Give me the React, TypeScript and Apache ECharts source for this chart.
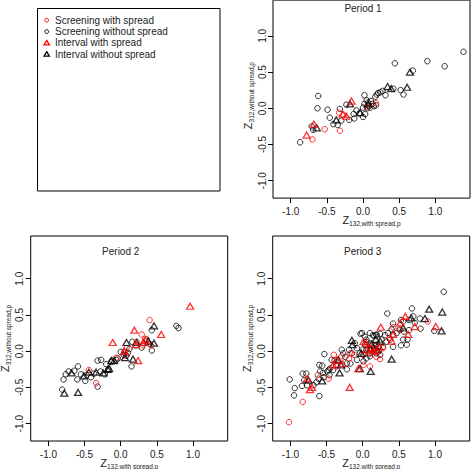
import React, { useEffect, useRef } from "react";
import * as echarts from "echarts";

// ---------- data ----------
const tickValues = [-1, -0.5, 0, 0.5, 1];
const periodTitles = ["Period 1", "Period 2", "Period 3"];
const legendLabels = [
  "Screening with spread",
  "Screening without spread",
  "Interval with spread",
  "Interval without spread",
];
const xTitleSub = "132,with spread,p";
const yTitleSub = "312,without spread,p";

// Period 1
const p1ScreenWith = [
  [-0.7, -0.43], [-0.53, -0.29], [-0.32, -0.31], [-0.33, -0.06], [0.18, 0.07], [-0.27, -0.09], [0.05, 0.02],
];
const p1ScreenWithout = [
  [-0.87, -0.47], [-0.62, 0.17], [-0.63, 0.0], [-0.71, -0.25], [-0.69, -0.3], [-0.49, -0.02], [-0.46, -0.13],
  [-0.41, -0.22], [-0.32, -0.01], [-0.35, -0.23], [-0.3, -0.17], [-0.19, -0.16], [-0.13, -0.08], [-0.12, -0.14],
  [-0.09, -0.03], [-0.23, 0.05], [0.02, 0.18], [0.0, 0.01], [0.02, 0.06], [0.05, 0.11], [0.06, 0.0], [0.1, 0.01],
  [0.13, 0.06], [0.17, 0.16], [0.21, 0.21], [0.27, 0.24], [0.31, 0.18], [0.18, 0.04], [0.0, -0.12], [0.03, -0.08],
  [0.44, 0.62], [0.42, 0.27], [0.52, 0.25], [0.56, 0.19], [0.69, 0.52], [0.89, 0.65], [1.13, 0.58], [1.39, 0.78],
  [0.11, 0.1], [0.08, 0.03], [0.24, 0.22], [0.19, 0.19], [-0.05, -0.07], [0.07, 0.08], [0.15, 0.03],
];
const p1IntervalWith = [
  [-0.78, -0.37], [-0.68, -0.22], [-0.28, -0.08], [-0.23, -0.11], [-0.16, 0.1],
];
const p1IntervalWithout = [
  [-0.64, -0.27], [-0.37, -0.16], [-0.18, 0.06], [-0.04, -0.06], [0.07, 0.06], [0.34, 0.3], [0.39, 0.27],
  [0.61, 0.29], [0.65, 0.5],
];

// Period 2
const p2ScreenWith = [
  [0.4, 0.43], [0.29, 0.23], [0.31, 0.08], [0.08, 0.04], [0.07, -0.06], [-0.06, -0.09], [-0.44, -0.26],
  [-0.34, -0.44], [0.42, 0.08], [0.05, -0.01], [0.22, 0.13], [0.34, 0.17],
];
const p2ScreenWithout = [
  [-0.81, -0.53], [-0.79, -0.39], [-0.76, -0.32], [-0.72, -0.28], [-0.64, -0.27], [-0.59, -0.21], [-0.6, -0.39],
  [-0.55, -0.32], [-0.49, -0.41], [-0.41, -0.36], [-0.32, -0.49], [-0.32, -0.13], [-0.27, -0.12], [-0.28, -0.28],
  [-0.22, -0.32], [-0.2, -0.18], [-0.12, -0.13], [-0.06, -0.12], [-0.04, -0.1], [0.0, -0.01], [0.15, -0.21],
  [0.04, -0.05], [0.08, -0.06], [0.1, -0.02], [0.16, 0.13], [0.21, 0.08], [0.43, 0.29], [0.43, 0.01], [0.77, 0.35],
  [0.8, 0.32], [0.36, 0.16], [0.29, 0.05], [0.4, 0.1], [-0.13, -0.15], [-0.37, -0.31], [-0.47, -0.33], [0.12, 0.03],
  [-0.17, -0.25],
];
const p2IntervalWith = [
  [0.96, 0.62], [0.56, 0.23], [0.19, 0.29], [-0.11, 0.12], [0.05, 0.0], [0.34, 0.15], [0.24, -0.13], [0.21, 0.09],
  [0.31, 0.12],
];
const p2IntervalWithout = [
  [0.46, 0.35], [0.46, 0.11], [0.38, 0.14], [0.22, 0.12], [0.08, 0.12], [-0.09, -0.13], [-0.13, -0.13],
  [-0.18, -0.25], [-0.34, -0.29], [-0.44, -0.29], [-0.51, -0.34], [-0.68, -0.3], [-0.78, -0.58], [-0.59, -0.57],
  [0.06, -0.09], [0.17, -0.11], [-0.24, -0.3], [-0.16, -0.24],
];

// Period 3
const p3ScreenWith = [
  [-1.02, -0.98], [-0.83, -0.7], [-0.47, -0.38], [-0.4, -0.05], [-0.29, -0.07], [-0.19, -0.1], [-0.17, -0.03],
  [-0.12, -0.05], [0.01, -0.05], [0.1, -0.03], [0.19, -0.08], [0.1, -0.21], [0.42, 0.33], [0.24, -0.11],
  [0.01, -0.19], [0.37, 0.18], [0.28, 0.04], [0.17, 0.07], [0.9, 0.41], [0.52, 0.29], [-0.62, -0.33], [-0.36, -0.21],
];
const p3ScreenWithout = [
  [-1.01, -0.39], [-0.94, -0.51], [-0.95, -0.61], [-0.6, -0.62], [1.12, 0.82], [0.99, 0.28], [0.79, 0.45],
  [0.8, 0.31], [0.68, 0.59], [0.34, 0.52], [-0.53, -0.04],
  [-0.83, -0.31], [-0.78, -0.31], [-0.81, -0.4], [-0.84, -0.48], [-0.77, -0.47], [-0.68, -0.47], [-0.64, -0.43],
  [-0.61, -0.38], [-0.59, -0.28], [-0.55, -0.3], [-0.54, -0.36], [-0.49, -0.28], [-0.47, -0.26], [-0.45, -0.24],
  [-0.46, -0.33], [-0.6, -0.19], [-0.56, -0.2], [-0.43, -0.12], [-0.39, -0.13], [-0.37, -0.19], [-0.41, -0.26],
  [-0.29, 0.02], [-0.27, -0.03], [-0.24, -0.08], [-0.22, -0.17], [-0.17, -0.17], [-0.22, -0.25], [-0.11, 0.11],
  [-0.08, 0.04], [-0.04, -0.03], [0.0, 0.02], [0.03, 0.09], [0.05, 0.16], [0.1, -0.03], [0.16, 0.04], [0.19, -0.03],
  [0.22, 0.06], [0.16, 0.21], [0.19, 0.23], [-0.03, 0.24], [-0.08, -0.12], [0.01, -0.14], [0.05, -0.1],
  [-0.19, 0.02], [-0.15, -0.03],
  [-0.01, 0.25], [0.03, 0.2], [0.1, 0.25], [0.14, 0.22], [0.19, 0.22], [0.24, 0.24], [0.31, 0.22], [0.35, 0.25],
  [0.4, 0.3], [0.42, 0.23], [0.05, 0.13], [0.12, 0.11], [0.19, 0.09], [0.26, 0.16], [0.33, 0.13], [0.38, 0.16],
  [0.42, 0.06], [0.28, 0.06], [0.17, 0.02], [0.05, 0.02], [0.01, -0.05], [0.1, -0.07], [0.22, 0.0], [0.24, -0.05],
  [0.51, 0.3], [0.53, 0.43], [0.56, 0.41], [0.47, 0.25], [0.64, 0.43], [0.7, 0.48], [0.72, 0.39], [0.57, 0.27],
  [0.64, 0.29], [0.56, 0.16], [0.62, 0.16], [0.53, 0.08], [0.61, 0.09], [0.42, 0.38],
];
const p3IntervalWith = [
  [-0.73, -0.53], [-0.7, -0.5], [-0.36, -0.12], [-0.18, -0.5], [-0.06, -0.24], [0.01, 0.13], [0.06, 0.02],
  [0.12, 0.04], [0.19, 0.01], [0.23, 0.06], [-0.41, -0.19], [-0.28, -0.17], [0.25, 0.33], [0.52, 0.39],
  [0.59, 0.48], [0.72, 0.34], [0.63, 0.23], [1.01, 0.34], [0.42, 0.23], [0.05, 0.11], [0.15, 0.0], [0.4, 0.14],
  [-0.77, -0.38],
];
const p3IntervalWithout = [
  [-0.75, -0.4], [-0.56, -0.41], [-0.34, -0.12], [-0.32, -0.3], [-0.3, -0.19], [-0.15, 0.15], [-0.14, 0.09],
  [-0.04, -0.24], [0.11, -0.28], [-0.02, -0.03], [0.12, 0.09], [0.18, 0.16], [0.2, 0.02], [0.92, 0.58],
  [1.1, 0.54], [1.09, 0.28], [0.86, 0.45], [0.67, 0.46], [0.56, 0.32], [0.4, -0.11], [0.24, 0.14], [0.1, 0.03],
];

const periods = [
  { sw: p1ScreenWith, swo: p1ScreenWithout, iw: p1IntervalWith, iwo: p1IntervalWithout },
  { sw: p2ScreenWith, swo: p2ScreenWithout, iw: p2IntervalWith, iwo: p2IntervalWithout },
  { sw: p3ScreenWith, swo: p3ScreenWithout, iw: p3IntervalWith, iwo: p3IntervalWithout },
];

// ---------- layout ----------
const X_MIN = -1.245;
const X_MAX = 1.48;
const Y_MIN = -1.24;
const Y_MAX = 1.59;
const PANEL_W = 197;
const PANEL_H = 205;
const panelPos = [
  { left: 273, top: -6.9 },
  { left: 30.7, top: 236 },
  { left: 272.7, top: 236 },
];

const RED = "#ff0000";
const BLACK = "#000000";
const FONT = "'Liberation Sans', Arial, Helvetica, sans-serif";
const TXT = "#222222";

export default function App() {
  const ref = useRef<HTMLDivElement>(null);

  useEffect(() => {
    if (!ref.current) return;
    const chart = echarts.init(ref.current, undefined, { renderer: "svg" });

    const grids = panelPos.map((p) => ({
      left: p.left,
      top: p.top,
      width: PANEL_W,
      height: PANEL_H,
      show: true,
      borderColor: "#000",
      borderWidth: 1,
      backgroundColor: "transparent",
      containLabel: false,
      outerBoundsMode: "none",
    }));

    const labelFmt = (v: number) => v.toFixed(1);

    const xAxes = panelPos.map((_, i) => ({
      type: "value",
      gridIndex: i,
      min: X_MIN,
      max: X_MAX,
      position: "bottom",
      axisLine: { show: false, onZero: false },
      splitLine: { show: false },
      axisTick: { show: true, length: 5, customValues: tickValues, lineStyle: { color: "#000", width: 1 } },
      axisLabel: {
        customValues: tickValues,
        formatter: labelFmt,
        margin: 8,
        fontSize: 10,
        color: TXT,
        fontFamily: FONT,
      },
    }));

    const yAxes = panelPos.map((_, i) => ({
      type: "value",
      gridIndex: i,
      min: Y_MIN,
      max: Y_MAX,
      position: "left",
      axisLine: { show: false, onZero: false },
      splitLine: { show: false },
      axisTick: { show: true, length: 5, customValues: tickValues, lineStyle: { color: "#000", width: 1 } },
      axisLabel: {
        customValues: tickValues,
        formatter: labelFmt,
        rotate: 90,
        margin: 6,
        fontSize: 10,
        color: TXT,
        fontFamily: FONT,
      },
    }));

    const circleStyle = (c: string) => ({ color: "transparent", borderColor: c, borderWidth: 1 });
    const triStyle = (c: string) => ({ color: "transparent", borderColor: c, borderWidth: 1.3 });

    const series: any[] = [];
    periods.forEach((p, i) => {
      series.push({
        type: "scatter", name: legendLabels[1], xAxisIndex: i, yAxisIndex: i, data: p.swo,
        symbol: "circle", symbolSize: 5.5, itemStyle: circleStyle(BLACK), silent: true,
      });
      series.push({
        type: "scatter", name: legendLabels[0], xAxisIndex: i, yAxisIndex: i, data: p.sw,
        symbol: "circle", symbolSize: 5.5, itemStyle: circleStyle(RED), silent: true,
      });
      series.push({
        type: "scatter", name: legendLabels[3], xAxisIndex: i, yAxisIndex: i, data: p.iwo,
        symbol: "triangle", symbolSize: [7, 6], itemStyle: triStyle(BLACK), silent: true,
      });
      series.push({
        type: "scatter", name: legendLabels[2], xAxisIndex: i, yAxisIndex: i, data: p.iw,
        symbol: "triangle", symbolSize: [7, 6], itemStyle: triStyle(RED), silent: true,
      });
    });

    const xScale = PANEL_W / (X_MAX - X_MIN);
    const yScale = PANEL_H / (Y_MAX - Y_MIN);

    const richZ = {
      z: { fontSize: 11, lineHeight: 14, verticalAlign: "middle", fill: TXT, fontFamily: FONT },
      s: { fontSize: 6.5, lineHeight: 7, verticalAlign: "bottom", fill: TXT, fontFamily: FONT },
    };

    const graphics: any[] = [];
    panelPos.forEach((p, i) => {
      const bottom = p.top + PANEL_H;
      const zeroX = p.left + (0 - X_MIN) * xScale;
      // period title
      graphics.push({
        type: "text",
        x: zeroX,
        y: p.top + 15.5,
        style: { text: periodTitles[i], fontSize: 10, fontFamily: FONT, fill: TXT, align: "center", verticalAlign: "middle" },
      });
      // x title
      graphics.push({
        type: "text",
        x: p.left + PANEL_W / 2,
        y: bottom + 21.5,
        style: { text: `{z|Z}{s|${xTitleSub}}`, rich: richZ, align: "center", verticalAlign: "middle", fill: TXT },
      });
      // y title
      graphics.push({
        type: "text",
        x: p.left - 25.5,
        y: p.top + PANEL_H / 2,
        rotation: Math.PI / 2,
        style: { text: `{z|Z}{s|${yTitleSub}}`, rich: richZ, align: "center", verticalAlign: "middle", fill: TXT },
      });
    });
    // visible top edge of the first panel
    graphics.push({
      type: "line",
      shape: { x1: panelPos[0].left, y1: 0.5, x2: panelPos[0].left + PANEL_W, y2: 0.5 },
      style: { stroke: "#666", lineWidth: 1 },
    });

    // legend panel
    graphics.push({
      type: "rect",
      shape: { x: 37.5, y: 8.5, width: 182.5, height: 182.5 },
      style: { fill: "none", stroke: "#000", lineWidth: 1 },
    });
    const legendRowsY = [20.3, 31.6, 42.9, 54.2];
    const legendColors = [RED, BLACK, RED, BLACK];
    legendLabels.forEach((lab, k) => {
      const cy = legendRowsY[k];
      const cx = 46.7;
      if (k < 2) {
        graphics.push({
          type: "circle",
          shape: { cx, cy, r: 1.9 },
          style: { fill: "none", stroke: legendColors[k], lineWidth: 1 },
        });
      } else {
        graphics.push({
          type: "polygon",
          shape: { points: [[cx, cy - 2.5], [cx + 2.7, cy + 2], [cx - 2.7, cy + 2]] },
          style: { fill: "none", stroke: legendColors[k], lineWidth: 1.3 },
        });
      }
      graphics.push({
        type: "text",
        x: 55,
        y: cy,
        style: { text: lab, fontSize: 10, fontFamily: FONT, fill: TXT, align: "left", verticalAlign: "middle" },
      });
    });

    chart.setOption({
      animation: false,
      textStyle: { fontFamily: FONT },
      grid: grids,
      xAxis: xAxes,
      yAxis: yAxes,
      series,
      graphic: graphics,
    });

    return () => chart.dispose();
  }, []);

  return (
    <div
      ref={ref}
      style={{ position: "fixed", left: 0, top: 0, width: 472, height: 469, background: "#fff" }}
    />
  );
}
